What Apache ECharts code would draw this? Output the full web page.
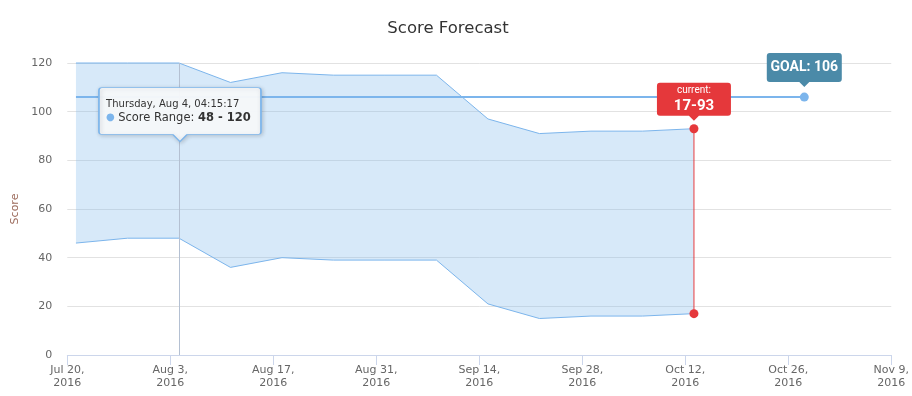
<!DOCTYPE html>
<html><head><meta charset="utf-8">
<script src="https://cdn.jsdelivr.net/npm/echarts@6/dist/echarts.min.js"></script>
<style>html,body{margin:0;padding:0;background:#fff}#c{width:912px;height:396px}</style>
</head><body><div id="c"></div>
<script>
// ---- data ----
const axisStart = '2016-07-20';
const axisEnd = '2016-11-09';
const tickDays = 14;
const pointTime = '04:15:17';
const dates = ['2016-07-21','2016-07-28','2016-08-04','2016-08-11','2016-08-18','2016-08-25','2016-09-01','2016-09-08','2016-09-15','2016-09-22','2016-09-29','2016-10-06','2016-10-13'];
const lows  = [46, 48, 48, 36, 40, 39, 39, 39, 21, 15, 16, 16, 17];
const highs = [120,120,120,112,116,115,115,115, 97, 91, 92, 92, 93];
const goalDates = ['2016-07-21', '2016-10-28'];
const goalValue = 106;
const currentDate = '2016-10-13';
const currentLow = 17;
const currentHigh = 93;
const tooltipIndex = 2; // Aug 4
const yTicks = [0, 20, 40, 60, 80, 100, 120];
const months = ['Jan','Feb','Mar','Apr','May','Jun','Jul','Aug','Sep','Oct','Nov','Dec'];
const weekdays = ['Sunday','Monday','Tuesday','Wednesday','Thursday','Friday','Saturday'];

// ---- helpers ----
const DAY = 86400000;
const t0 = Date.parse(axisStart + 'T00:00:00Z');
const toDay = (s, time) => (Date.parse(s + 'T' + (time || pointTime) + 'Z') - t0) / DAY;
const xMax = toDay(axisEnd, '00:00:00');
const fmtTick = v => { const d = new Date(t0 + v * DAY); return months[d.getUTCMonth()] + ' ' + d.getUTCDate() + ',\n' + d.getUTCFullYear(); };
const fmtFull = s => { const d = new Date(Date.parse(s + 'T' + pointTime + 'Z')); return weekdays[d.getUTCDay()] + ', ' + months[d.getUTCMonth()] + ' ' + d.getUTCDate() + ', ' + pointTime; };

const rangeData = dates.map((d, i) => [toDay(d), lows[i], highs[i]]);
const goalData = [
  { value: [toDay(goalDates[0]), goalValue], symbol: 'none' },
  { value: [toDay(goalDates[1]), goalValue], symbol: 'circle', symbolSize: 9 }
];
const curX = toDay(currentDate);
const currentData = [[curX, currentLow], [curX, currentHigh]];
const ttX = toDay(dates[tooltipIndex]);

const FONT = 'DejaVu Sans';
const BLUE = '#7cb5ec';
const RED = '#e5383b';
const TEAL = '#4b8aa8';

function boxPath(w, h, a, r) {
  const c = w / 2;
  return 'path://M' + r + ',0 H' + (w - r) + ' Q' + w + ',0 ' + w + ',' + r + ' V' + (h - r) + ' Q' + w + ',' + h + ' ' + (w - r) + ',' + h +
    ' H' + (c + a) + ' L' + c + ',' + (h + a) + ' L' + (c - a) + ',' + h + ' H' + r + ' Q0,' + h + ' 0,' + (h - r) + ' V' + r + ' Q0,0 ' + r + ',0 Z';
}

function renderRange(params, api) {
  if (params.dataIndex !== 0) return null;
  const upper = rangeData.map(p => api.coord([p[0], p[2]]));
  const lower = rangeData.map(p => api.coord([p[0], p[1]]));
  const poly = upper.concat(lower.slice().reverse());
  return {
    type: 'group',
    children: [
      { type: 'polygon', shape: { points: poly }, style: { fill: 'rgba(124,181,236,0.3)', stroke: null } },
      { type: 'polyline', shape: { points: upper }, style: { fill: null, stroke: BLUE, lineWidth: 1 } },
      { type: 'polyline', shape: { points: lower }, style: { fill: null, stroke: BLUE, lineWidth: 1 } }
    ]
  };
}

const chart = echarts.init(document.getElementById('c'), null, { renderer: 'canvas' });
chart.setOption({
  animation: false,
  backgroundColor: '#fff',
  title: {
    text: 'Score Forecast', left: 448, top: 20, padding: 0, textAlign: 'center',
    textStyle: { fontFamily: FONT, fontSize: 16.5, fontWeight: 'normal', color: '#333' }
  },
  grid: { left: 67.3, right: 17.7, top: 63, bottom: 41, containLabel: false },
  xAxis: {
    type: 'value', min: 0, max: xMax, interval: tickDays,
    axisLine: { show: true, lineStyle: { color: '#ccd6eb', width: 1 } },
    axisTick: { show: true, length: 10, lineStyle: { color: '#ccd6eb' } },
    splitLine: { show: false },
    axisLabel: { formatter: fmtTick, color: '#666', fontFamily: FONT, fontSize: 11, lineHeight: 13, margin: 9, hideOverlap: false, showMinLabel: true, showMaxLabel: true }
  },
  yAxis: {
    type: 'value', min: yTicks[0], max: yTicks[yTicks.length - 1], interval: yTicks[1] - yTicks[0],
    name: 'Score', nameLocation: 'middle', nameGap: 41,
    nameTextStyle: { color: '#9c6b5c', fontFamily: FONT, fontSize: 11 },
    axisLine: { show: false }, axisTick: { show: false },
    splitLine: { lineStyle: { color: '#e2e2e2', width: 1 } },
    axisLabel: { color: '#666', fontFamily: FONT, fontSize: 11, margin: 15 }
  },
  series: [
    {
      name: 'Score Range', type: 'custom', data: rangeData, renderItem: renderRange,
      encode: { x: 0, y: [1, 2] }, z: 2, silent: true,
      markLine: {
        silent: true, symbol: 'none', label: { show: false },
        lineStyle: { color: '#b4c0d2', width: 1, type: 'solid' },
        data: [{ xAxis: ttX }]
      }
    },
    {
      name: 'Goal', type: 'line', data: goalData, symbol: 'circle', symbolSize: 9, showSymbol: true,
      lineStyle: { color: BLUE, width: 2 }, itemStyle: { color: BLUE }, z: 3, silent: true,
      markPoint: {
        silent: true,
        data: [{ coord: [toDay(goalDates[1]), goalValue] }],
        symbol: boxPath(75, 29, 5, 3), symbolSize: [75, 34], symbolOffset: [0, -27],
        itemStyle: { color: TEAL },
        label: {
          show: true, position: 'inside', offset: [0, -2.5],
          formatter: 'GOAL: ' + goalValue,
          color: '#fff', fontFamily: 'Roboto', fontWeight: 'bold', fontSize: 14
        }
      }
    },
    {
      name: 'current', type: 'line', data: currentData, symbol: 'circle', symbolSize: 9,
      lineStyle: { color: 'rgba(229,56,59,0.65)', width: 1.5 }, itemStyle: { color: RED }, z: 4, silent: true,
      markPoint: {
        silent: true,
        data: [{ coord: [curX, currentHigh] }],
        symbol: boxPath(74, 33, 5, 3), symbolSize: [74, 38], symbolOffset: [0, -27],
        itemStyle: { color: RED },
        label: {
          show: true, position: 'inside', offset: [0, -2.5],
          formatter: '{a|current:}\n{b|' + currentLow + '-' + currentHigh + '}',
          rich: {
            a: { color: '#fff', fontFamily: 'Roboto', fontSize: 10, lineHeight: 14, align: 'center' },
            b: { color: '#fff', fontFamily: 'Roboto', fontSize: 15, fontWeight: 'bold', lineHeight: 17, align: 'center' }
          }
        }
      }
    },
    {
      name: 'tooltip', type: 'line', data: [], z: 10, silent: true,
      markPoint: {
        silent: true,
        data: [{ coord: [ttX, (lows[tooltipIndex] + highs[tooltipIndex]) / 2] }],
        symbol: boxPath(162, 47, 7, 3), symbolSize: [162, 54], symbolOffset: [1, -36],
        itemStyle: { color: 'rgba(247,249,251,0.96)', borderColor: BLUE, borderWidth: 1, shadowColor: 'rgba(0,0,0,0.18)', shadowBlur: 4, shadowOffsetX: 1, shadowOffsetY: 1 },
        label: {
          show: true, position: [8, 10], align: 'left', verticalAlign: 'top',
          formatter: '{h|' + fmtFull(dates[tooltipIndex]) + '}\n{d|●} {t|Score Range: }{v|' + lows[tooltipIndex] + ' - ' + highs[tooltipIndex] + '}',
          rich: {
            h: { color: '#333', fontFamily: FONT, fontSize: 10, lineHeight: 14 },
            d: { color: BLUE, fontFamily: FONT, fontSize: 10, lineHeight: 13 },
            t: { color: '#333', fontFamily: FONT, fontSize: 11.5, lineHeight: 13 },
            v: { color: '#333', fontFamily: FONT, fontSize: 11.5, fontWeight: 'bold', lineHeight: 13 }
          }
        }
      }
    }
  ]
});
</script>
</body></html>
